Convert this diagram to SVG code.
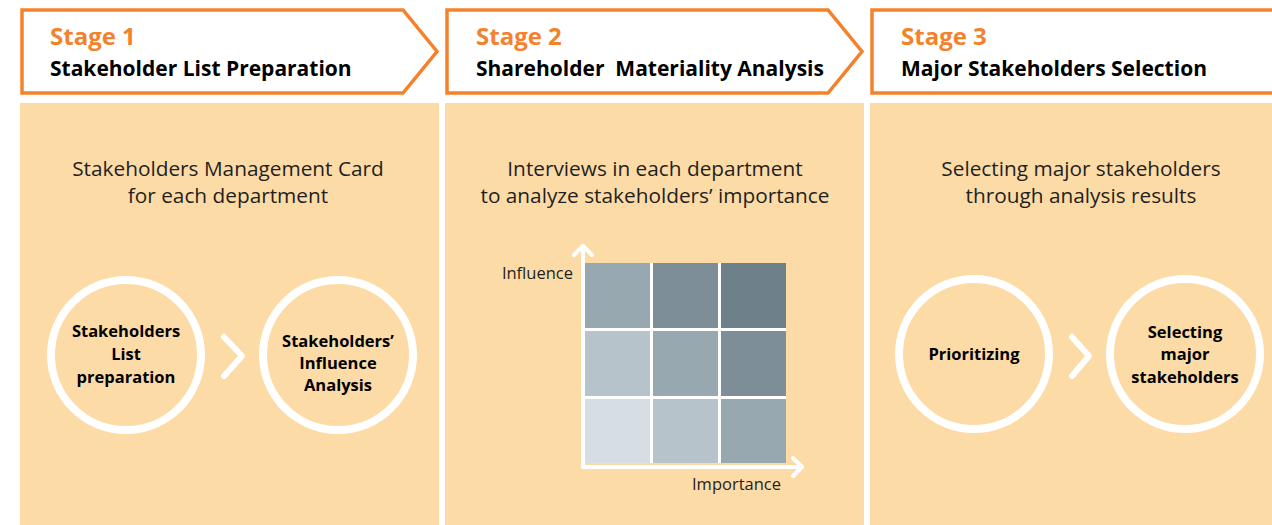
<svg xmlns="http://www.w3.org/2000/svg" width="1272" height="525" viewBox="0 0 1272 525">
<defs>
<style>
.panel{fill:#FDDBA7}
.hdr{fill:#fff;stroke:#F5822A;stroke-width:3.5}
.stage{font-family:"Open Sans","Liberation Sans",sans-serif;font-weight:bold;font-size:24px;fill:#F5822A}
.title{font-family:"Open Sans","Liberation Sans",sans-serif;font-weight:bold;font-size:21px;fill:#000;white-space:pre}
.desc{font-family:"Open Sans","Liberation Sans",sans-serif;font-size:20.8px;fill:#231F20;text-anchor:middle}
.ring{fill:none;stroke:#fff;stroke-width:8}
.ctext{font-family:"Open Sans","Liberation Sans",sans-serif;font-weight:bold;font-size:16.5px;fill:#000;text-anchor:middle}
.chev{fill:none;stroke:#fff;stroke-width:6;stroke-linecap:round;stroke-linejoin:round}
.axis{fill:none;stroke:#fff;stroke-width:4;stroke-linecap:round;stroke-linejoin:round}
.axlabel{font-family:"Open Sans","Liberation Sans",sans-serif;font-size:16.5px;fill:#231F20}
</style>
</defs>
<rect width="1272" height="525" fill="#fff"/>

<g id="stage1">
<rect class="panel" x="20" y="103" width="419" height="422"/>
<path class="hdr" d="M22,10 H403 L437,51.5 L403,93 H22 Z"/>
<text class="stage" x="50" y="45">Stage 1</text>
<text class="title" x="50" y="76">Stakeholder List Preparation</text>
<text class="desc" x="228" y="176">Stakeholders Management Card</text>
<text class="desc" x="228" y="203">for each department</text>
</g>

<g id="stage2">
<rect class="panel" x="445" y="103" width="419" height="422"/>
<path class="hdr" d="M447,10 H828 L862,51.5 L828,93 H447 Z"/>
<text class="stage" x="476" y="45">Stage 2</text>
<text class="title" x="476" y="76" xml:space="preserve">Shareholder  Materiality Analysis</text>
<text class="desc" x="655" y="176">Interviews in each department</text>
<text class="desc" x="655" y="203">to analyze stakeholders’ importance</text>
</g>

<g id="stage3">
<rect class="panel" x="870" y="103" width="402" height="422"/>
<path class="hdr" d="M1280,10 H872 V93 H1280"/>
<text class="stage" x="901" y="45">Stage 3</text>
<text class="title" x="901" y="76">Major Stakeholders Selection</text>
<text class="desc" x="1081" y="176">Selecting major stakeholders</text>
<text class="desc" x="1081" y="203">through analysis results</text>
</g>

<g id="node-list-prep">
<circle class="ring" cx="126" cy="355" r="75"/>
<text class="ctext" x="126" y="337">Stakeholders</text>
<text class="ctext" x="126" y="360">List</text>
<text class="ctext" x="126" y="383">preparation</text>
</g>
<g id="node-influence">
<circle class="ring" cx="338" cy="355" r="75"/>
<text class="ctext" x="338" y="347">Stakeholders’</text>
<text class="ctext" x="338" y="369">Influence</text>
<text class="ctext" x="338" y="391">Analysis</text>
</g>
<g id="node-prioritizing">
<circle class="ring" cx="974" cy="354" r="75"/>
<text class="ctext" x="974" y="360">Prioritizing</text>
</g>
<g id="node-selecting">
<circle class="ring" cx="1185" cy="354" r="75"/>
<text class="ctext" x="1185" y="338">Selecting</text>
<text class="ctext" x="1185" y="360">major</text>
<text class="ctext" x="1185" y="383">stakeholders</text>
</g>

<g id="connectors">
<path class="chev" d="M224,337 L242,356 L224,376"/>
<path class="chev" d="M1072,337 L1089,356 L1072,376"/>
</g>

<g id="matrix">
<rect x="585" y="263" width="201" height="200" fill="#fff"/>
<rect x="585" y="263" width="65" height="65" fill="#98A8B0"/>
<rect x="653" y="263" width="65" height="65" fill="#7E8E99"/>
<rect x="721" y="263" width="65" height="65" fill="#6E818B"/>
<rect x="585" y="331" width="65" height="65" fill="#B7C3CA"/>
<rect x="653" y="331" width="65" height="65" fill="#98A8B0"/>
<rect x="721" y="331" width="65" height="65" fill="#7E8E99"/>
<rect x="585" y="399" width="65" height="64" fill="#D6DDE3"/>
<rect x="653" y="399" width="65" height="64" fill="#B7C3CA"/>
<rect x="721" y="399" width="65" height="64" fill="#98A8B0"/>
<path class="axis" d="M583,246 V467 H802"/>
<path class="axis" d="M574,255 L583,246 L592,255"/>
<path class="axis" d="M793,458 L802,467 L793,476"/>
<text class="axlabel" x="573" y="279" text-anchor="end">Influence</text>
<text class="axlabel" x="781" y="490" text-anchor="end">Importance</text>
</g>
</svg>
